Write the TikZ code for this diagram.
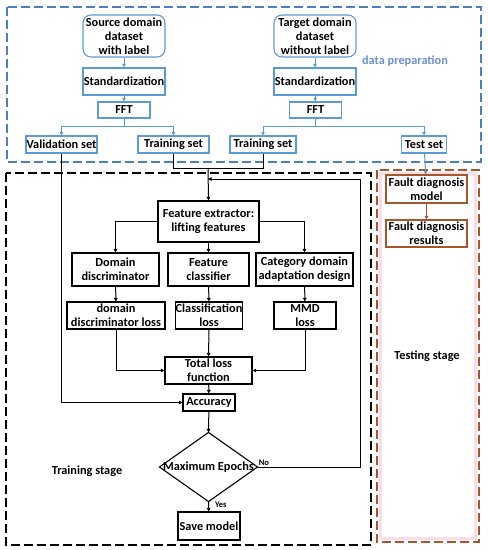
\documentclass[tikz,border=0pt]{standalone}
\usepackage{fontspec}
\setmainfont{Carlito}
\usetikzlibrary{arrows.meta}
\definecolor{bl}{HTML}{5B9BD5}
\definecolor{bldash}{HTML}{4A7EC8}
\definecolor{bltxt}{HTML}{6D8FD0}
\definecolor{brn}{HTML}{A9552B}
\definecolor{pinkband}{HTML}{FBDDE8}
\tikzset{
  base/.style={font=\fontsize{12.3}{14}\selectfont\bfseries, align=center, inner sep=0pt, line width=1.1pt},
  bbox/.style={base, draw=bl, fill=white},
  kbox/.style={base, draw=black, fill=white},
  rbox/.style={base, draw=brn, fill=white},
  arr/.style={-{Triangle[length=3.5pt,width=3.5pt]}, line width=1pt},
  ln/.style={line width=1pt},
  lbl/.style={font=\fontsize{12.3}{14}\selectfont\bfseries},
  small/.style={font=\fontsize{8.5}{10}\selectfont\bfseries, inner sep=1pt}
}
\begin{document}
\begin{tikzpicture}[x=1pt,y=-1pt]
\useasboundingbox (0,0) rectangle (488,550);
% frames
\draw[bldash, line width=1.1pt, dash pattern=on 9pt off 4pt] (7,7) rectangle (481,162);
\draw[black, line width=1.1pt, dash pattern=on 9pt off 4pt] (6,173) rectangle (371,545);
\draw[pinkband, line width=3.5pt] (380.5,173.5) rectangle (475.5,538.5);
\draw[brn, line width=1.1pt, dash pattern=on 9pt off 4pt] (377,170) rectangle (479,542);

% data preparation
\node[bbox, rounded corners=8pt, minimum width=82pt, minimum height=42pt] (src) at (124,36) {Source domain\\dataset\\with label};
\node[bbox, minimum width=82pt, minimum height=27pt] (std1) at (124,81.5) {Standardization};
\node[bbox, minimum width=52pt, minimum height=16pt] (fft1) at (124,110) {FFT};
\node[bbox, minimum width=71pt, minimum height=17pt] (val) at (61.5,144.5) {Validation set};
\node[bbox, minimum width=71pt, minimum height=17pt] (tr1) at (173.5,144.5) {Training set};

\node[bbox, rounded corners=8pt, minimum width=82pt, minimum height=42pt] (tgt) at (315,36) {Target domain\\dataset\\without label};
\node[bbox, minimum width=82pt, minimum height=27pt] (std2) at (315,81.5) {Standardization};
\node[bbox, minimum width=52pt, minimum height=16pt] (fft2) at (315.5,110) {FFT};
\node[bbox, minimum width=66pt, minimum height=17pt] (tr2) at (263,144.5) {Training set};
\node[bbox, minimum width=45pt, minimum height=17pt] (test) at (424,144.5) {Test set};

\node[lbl, text=bltxt] (dp) at (405,61) {data preparation};

\coordinate (s1) at (124,126);
\coordinate (s2) at (315.5,126);
\draw[arr, bl] (src) -- (std1);
\draw[arr, bl] (std1) -- (fft1);
\draw[ln, bl] (fft1) -- (s1);
\draw[arr, bl] (s1) -| (val);
\draw[arr, bl] (s1) -| (tr1);
\draw[arr, bl] (tgt) -- (std2);
\draw[arr, bl] (std2) -- (fft2);
\draw[ln, bl] (fft2) -- (s2);
\draw[arr, bl] (s2) -| (tr2);
\draw[arr, bl] (s2) -| (test);

% testing stage
\node[rbox, minimum width=81pt, minimum height=28pt] (fdm) at (426.5,189) {Fault diagnosis\\model};
\node[rbox, minimum width=81pt, minimum height=27pt] (fdr) at (426.5,233.5) {Fault diagnosis\\results};
\node[lbl] (ts) at (427,356) {Testing stage};
\draw[arr, bl] (test) -- (fdm);
\draw[arr, brn] (fdm) -- (fdr);

% training stage
\node[kbox, minimum width=101pt, minimum height=41pt] (fe) at (208.5,221.5) {Feature extractor:\\lifting features};
\node[kbox, minimum width=87pt, minimum height=33pt] (dd) at (115.5,269.5) {Domain\\discriminator};
\node[kbox, minimum width=81pt, minimum height=33pt] (fc) at (208.5,269.5) {Feature\\classifier};
\node[kbox, minimum width=97pt, minimum height=33pt] (cat) at (304.5,269.5) {Category domain\\adaptation design};
\node[kbox, minimum width=98pt, minimum height=27pt] (ddl) at (116,315.5) {domain\\discriminator loss};
\node[kbox, minimum width=66pt, minimum height=27pt] (cl) at (209,315.5) {Classification\\loss};
\node[kbox, minimum width=62pt, minimum height=27pt] (mmd) at (305,315.5) {MMD\\loss};
\node[kbox, minimum width=87pt, minimum height=27pt] (tl) at (208.5,370.5) {Total loss\\function};
\node[kbox, minimum width=52pt, minimum height=17pt] (acc) at (209,402.5) {Accuracy};
\node[base, minimum width=97pt, minimum height=68pt] (dia) at (208.5,467) {Maximum Epochs};
\draw[line width=1.1pt] (dia.north) -- (dia.east) -- (dia.south) -- (dia.west) -- cycle;
\node[kbox, minimum width=62pt, minimum height=28pt] (save) at (209,526) {Save model};
\node[lbl] (trs) at (87,471) {Training stage};

\coordinate (j) at (208,168);
\coordinate (l1) at (360,467);
\coordinate (l2) at (360,179);
\coordinate (l3) at (208,179);
\draw[ln] (tr1.south) |- (j);
\draw[ln] (tr2.south) |- (j);
\draw[arr] (j) -- (fe.north);
\draw[arr] (dia.east) -- (l1) -- (l2) -- (l3);
\node[small, anchor=south west] (no) at (dia.east) {No};
\draw[arr] (fe.west) -| (dd.north);
\draw[arr] (fe.east) -| (cat.north);
\draw[arr] (fe) -- (fc);
\draw[arr] (dd) -- (ddl);
\draw[arr] (fc) -- (cl);
\draw[arr] (cat) -- (mmd);
\draw[arr] (ddl.south) |- (tl.west);
\draw[arr] (mmd.south) |- (tl.east);
\draw[arr] (cl) -- (tl);
\draw[arr] (tl) -- (acc);
\draw[arr] (val.south) |- (acc.west);
\draw[arr] (acc) -- (dia.north);
\draw[arr] (dia.south) -- (save);
\node[small, anchor=west] (yes) at (214,505) {Yes};
\end{tikzpicture}
\end{document}
